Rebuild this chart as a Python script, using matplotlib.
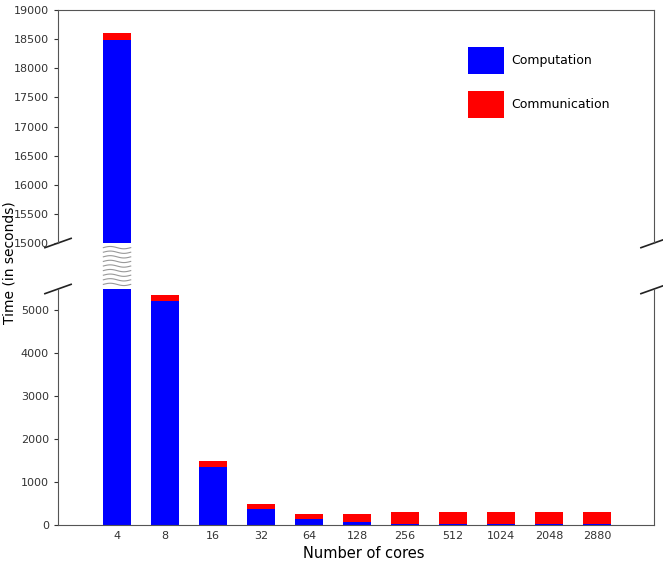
import numpy as np
import matplotlib
matplotlib.use("Agg")
import matplotlib.pyplot as plt

cores = ["4", "8", "16", "32", "64", "128", "256", "512", "1024", "2048", "2880"]
computation = [18480, 5230, 1350, 375, 130, 60, 30, 30, 30, 30, 30]
communication = [120, 130, 140, 125, 118, 190, 265, 265, 265, 265, 265]
upper_ticks = [15000, 15500, 16000, 16500, 17000, 17500, 18000, 18500, 19000]
lower_ticks = [0, 1000, 2000, 3000, 4000, 5000]

plt.rcParams['font.family'] = ['DejaVu Sans']
fig = plt.figure(figsize=(6.63, 5.64), dpi=100)
L, W = 0.0875, 0.899
ax_top = fig.add_axes([L, 0.5691, W, 0.9823 - 0.5691])
ax_bot = fig.add_axes([L, 0.0691, W, 0.4876 - 0.0691])

x = np.arange(len(cores))
width = 0.57
comp = np.array(computation)
comm = np.array(communication)
for ax in (ax_top, ax_bot):
    ax.bar(x, comp, width, color='#0000ff', label='Computation')
    ax.bar(x, comm, width, bottom=comp, color='#ff0000', label='Communication')
    ax.set_xlim(-1.23, 11.19)
    for s in ax.spines.values():
        s.set_color('#555555')
    ax.tick_params(colors='#333333', labelsize=8, length=3)

ax_top.set_ylim(15000, 19000)
ax_top.set_yticks(upper_ticks)
ax_bot.set_ylim(0, 5500)
ax_bot.set_yticks(lower_ticks)
ax_top.spines['bottom'].set_visible(False)
ax_bot.spines['top'].set_visible(False)
ax_top.tick_params(axis='x', bottom=False, labelbottom=False)
ax_bot.set_xticks(x)
ax_bot.set_xticklabels(cores)
ax_bot.tick_params(axis='x', length=0, labelsize=8, pad=4)

# break marks
dx, dy = 0.022, 0.02
kw = dict(color='#222222', clip_on=False, lw=1.2)
ax_top.plot([-dx, dx], [-dy, dy], transform=ax_top.transAxes, **kw)
ax_top.plot([1 - dx, 1 + dx], [-dy, dy], transform=ax_top.transAxes, **kw)
dy2 = dy * (0.9823 - 0.5691) / (0.4876 - 0.0691)
ax_bot.plot([-dx, dx], [1 - dy2, 1 + dy2], transform=ax_bot.transAxes, **kw)
ax_bot.plot([1 - dx, 1 + dx], [1 - dy2, 1 + dy2], transform=ax_bot.transAxes, **kw)

# wavy gap decoration over the first bar
ax_gap = fig.add_axes([L, 0.4876, W, 0.5691 - 0.4876], sharex=ax_bot)
ax_gap.set_ylim(0, 1)
ax_gap.axis('off')
xs = np.linspace(x[0] - width / 2, x[0] + width / 2, 60)
for k in range(9):
    yb = 0.9 - k * 0.1
    ax_gap.plot(xs, yb + 0.025 * np.sin((xs - xs[0]) / width * 2 * np.pi), color='#999999', lw=0.8)

leg = fig.legend(*ax_top.get_legend_handles_labels(), loc='upper left',
                 bbox_to_anchor=(468 / 663, 1 - 47 / 564), bbox_transform=fig.transFigure,
                 frameon=False, fontsize=9, handlelength=2.9, handleheight=2.9,
                 labelspacing=1.4, handletextpad=0.56, borderpad=0, borderaxespad=0)

fig.text(0.015, 0.535, 'Time (in seconds)', rotation=90, va='center', ha='center', fontsize=10)
fig.text(0.548, 0.0195, 'Number of cores', va='center', ha='center', fontsize=10.5)

fig.savefig('out.png', dpi=100)
